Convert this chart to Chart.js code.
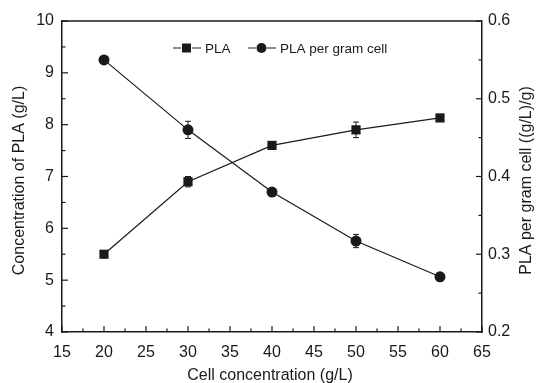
<!DOCTYPE html>
<html>
<head>
<meta charset="utf-8">
<script src="https://cdn.jsdelivr.net/npm/chart.js@4.4.0/dist/chart.umd.min.js"></script>
<style>
  html, body { margin: 0; padding: 0; background: #fff; }
  #wrap { width: 538px; height: 383px; }
</style>
</head>
<body>
<div id="wrap"><canvas id="plaChart"></canvas></div>
<script>
// data
const cellConc = [20, 30, 40, 50, 60];
const plaConc = [5.5, 6.9, 7.6, 7.9, 8.13];
const plaConcErr = [0.03, 0.1, 0.03, 0.15, 0.03];
const plaPerCell = [0.55, 0.46, 0.38, 0.317, 0.271];
const plaPerCellErr = [0.003, 0.011, 0.003, 0.0085, 0.003];

const ink = '#1a1a1a';
const font = "'Liberation Sans', Arial, sans-serif";

// error bars, inward ticks, top frame, axis titles and the legend
const extras = {
    id: 'extras',
    afterDatasetsDraw(chart) {
        const c = chart.ctx;
        const area = chart.chartArea;
        const x = chart.scales.x, y = chart.scales.y, y2 = chart.scales.y2;
        c.save();
        c.strokeStyle = ink;
        c.lineWidth = 1;

        // error bars
        const drawErr = (vals, errs, scale) => {
            vals.forEach((v, i) => {
                const px = x.getPixelForValue(cellConc[i]);
                const top = scale.getPixelForValue(v + errs[i]);
                const bot = scale.getPixelForValue(v - errs[i]);
                c.beginPath();
                c.moveTo(px, top); c.lineTo(px, bot);
                c.moveTo(px - 3, top); c.lineTo(px + 3, top);
                c.moveTo(px - 3, bot); c.lineTo(px + 3, bot);
                c.stroke();
            });
        };
        drawErr(plaConc, plaConcErr, y);
        drawErr(plaPerCell, plaPerCellErr, y2);

        // top frame
        c.lineWidth = 1.5;
        c.beginPath();
        c.moveTo(area.left, area.top); c.lineTo(area.right, area.top);
        c.stroke();

        // inward ticks
        c.lineWidth = 1.2;
        for (let v = 15; v <= 65; v += 2.5) {
            const px = x.getPixelForValue(v);
            const len = (v % 5 === 0) ? 6 : 3.5;
            c.beginPath(); c.moveTo(px, area.bottom); c.lineTo(px, area.bottom - len); c.stroke();
        }
        for (let v = 4; v <= 10; v += 0.5) {
            const py = y.getPixelForValue(v);
            const len = (Math.abs(v - Math.round(v)) < 1e-6) ? 6 : 3.5;
            c.beginPath(); c.moveTo(area.left, py); c.lineTo(area.left + len, py); c.stroke();
        }
        for (let k = 0; k <= 8; k++) {
            const v = 0.2 + k * 0.05;
            const py = y2.getPixelForValue(v);
            const len = (k % 2 === 0) ? 6 : 3.5;
            c.beginPath(); c.moveTo(area.right, py); c.lineTo(area.right - len, py); c.stroke();
        }

        // axis titles
        c.fillStyle = ink;
        c.font = '16px ' + font;
        c.textAlign = 'center';
        c.textBaseline = 'middle';
        const midY = (area.top + area.bottom) / 2 + 4;
        c.fillText(chart.options.scales.x.title.text, (area.left + area.right) / 2 - 2, 376);
        c.save();
        c.translate(20, midY);
        c.rotate(-Math.PI / 2);
        c.fillText(chart.options.scales.y.title.text, 0, 0);
        c.restore();
        c.save();
        c.translate(527, midY);
        c.rotate(-Math.PI / 2);
        c.fillText(chart.options.scales.y2.title.text, 0, 0);
        c.restore();

        // legend
        c.font = '13.5px ' + font;
        c.textAlign = 'left';
        c.lineWidth = 1.2;
        const ly = 48;
        const entries = [
            { x: 173, label: chart.data.datasets[0].label, shape: 'rect' },
            { x: 248, label: chart.data.datasets[1].label, shape: 'circle' }
        ];
        entries.forEach(e => {
            c.beginPath();
            c.moveTo(e.x, ly); c.lineTo(e.x + 8, ly);
            c.moveTo(e.x + 19, ly); c.lineTo(e.x + 28, ly);
            c.stroke();
            const cx = e.x + 13.5;
            if (e.shape === 'rect') {
                c.fillRect(cx - 4.5, ly - 4.5, 9, 9);
            } else {
                c.beginPath(); c.arc(cx, ly, 5, 0, Math.PI * 2); c.fill();
            }
            c.fillText(e.label, e.x + 32, ly + 1);
        });
        c.restore();
    }
};

const ctx = document.getElementById('plaChart').getContext('2d');
new Chart(ctx, {
    type: 'line',
    data: {
        datasets: [{
            label: 'PLA',
            data: cellConc.map((c, i) => ({ x: c, y: plaConc[i] })),
            yAxisID: 'y',
            borderColor: ink,
            borderWidth: 1.2,
            backgroundColor: ink,
            pointStyle: 'rect',
            pointRadius: 6.5,
            pointBorderWidth: 0
        }, {
            label: 'PLA per gram cell',
            data: cellConc.map((c, i) => ({ x: c, y: plaPerCell[i] })),
            yAxisID: 'y2',
            borderColor: ink,
            borderWidth: 1.2,
            backgroundColor: ink,
            pointStyle: 'circle',
            pointRadius: 5.5,
            pointBorderWidth: 0
        }]
    },
    options: {
        responsive: true,
        maintainAspectRatio: false,
        animation: false,
        layout: { padding: { top: 21, left: 0, right: 0, bottom: 0 } },
        plugins: {
            legend: { display: false },
            tooltip: { enabled: false }
        },
        scales: {
            x: {
                type: 'linear',
                min: 15, max: 65,
                grid: { display: false, drawTicks: false },
                border: { display: true, color: ink, width: 1.5 },
                ticks: { stepSize: 5, color: ink, font: { family: font, size: 16 }, padding: 11, maxRotation: 0 },
                title: { display: false, text: 'Cell concentration (g/L)' },
                afterFit(scale) { scale.height = 51; }
            },
            y: {
                type: 'linear',
                position: 'left',
                min: 4, max: 10,
                grid: { display: false, drawTicks: false },
                border: { display: true, color: ink, width: 1.5 },
                ticks: { stepSize: 1, color: ink, font: { family: font, size: 16 }, padding: 8 },
                title: { display: false, text: 'Concentration of PLA (g/L)' },
                afterFit(scale) { scale.width = 62; }
            },
            y2: {
                type: 'linear',
                position: 'right',
                min: 0.2, max: 0.6,
                grid: { display: false, drawTicks: false },
                border: { display: true, color: ink, width: 1.5 },
                ticks: { stepSize: 0.1, color: ink, font: { family: font, size: 16 }, padding: 6,
                    callback: v => v.toFixed(1) },
                title: { display: false, text: 'PLA per gram cell ((g/L)/g)' },
                afterFit(scale) { scale.width = 56; }
            }
        }
    },
    plugins: [extras]
});
</script>
</body>
</html>
